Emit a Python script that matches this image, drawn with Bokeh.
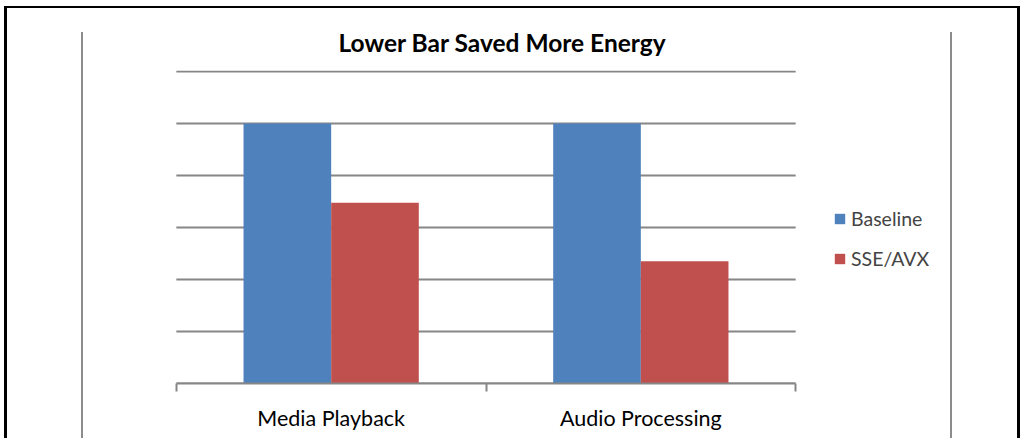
from bokeh.plotting import figure
from bokeh.models import (FactorRange, Range1d, LinearAxis, CategoricalAxis, FixedTicker,
                          Legend, LegendItem, ColumnDataSource, InlineStyleSheet)
from bokeh.transform import dodge
from bokeh.embed import file_html
from bokeh.resources import INLINE

# ---- data ----
categories = ["Media Playback", "Audio Processing"]
series_names = ["Baseline", "SSE/AVX"]
baseline = [1.0, 1.0]
sse_avx = [0.695, 0.47]
y_ticks = [0, 0.2, 0.4, 0.6, 0.8, 1.0, 1.2]

BLUE = "#4F81BD"
RED = "#C0504D"
GRID = "#868686"
FONT = "Lato"

src = ColumnDataSource(dict(cat=categories, baseline=baseline, sse=sse_avx))
n = len(categories)
grid_src = ColumnDataSource(dict(x0=[0] * len(y_ticks), x1=[n] * len(y_ticks),
                                 y=y_ticks))

# frame extends beyond the category area so the legend fits inside it
p = figure(width=1020, height=438,
           x_range=FactorRange(*categories, range_padding=0.5,
                               range_padding_units="absolute"),
           y_range=Range1d(0, 1.204),
           x_axis_location=None, y_axis_location=None,
           output_backend="svg", toolbar_location=None,
           min_border_left=21, min_border_right=70,
           min_border_top=70, min_border_bottom=55)
p.grid.visible = False
p.outline_line_color = None
p.background_fill_color = None
p.border_fill_color = None

# decorative outer border and chart-area side lines (page styling)
css = """
:host {
  background-color: white;
  background-image: linear-gradient(#000, #000), linear-gradient(#000, #000),
                    linear-gradient(#000, #000), linear-gradient(#8c8c8c, #8c8c8c),
                    linear-gradient(#8c8c8c, #8c8c8c);
  background-repeat: no-repeat;
  background-position: 4px 6px, 4px 6px, 1017px 6px, 81px 32px, 950px 32px;
  background-size: 3px 100%, 100% 2px, 3px 100%, 2px 100%, 2px 100%;
}
"""
p.stylesheets = [InlineStyleSheet(css=css)]

# title
p.title.text = "Lower Bar Saved More Energy"
p.title.align = "left"
p.title.offset = 317
p.title.text_font = FONT
p.title.text_font_style = "bold"
p.title.text_font_size = "24.5px"
p.title.text_color = "black"
p.title.standoff = 28

# horizontal gridlines over the category area only
p.segment(x0="x0", x1="x1", y0="y", y1="y", source=grid_src,
          line_color=GRID, line_width=2)

# category axis line with boundary ticks (synthetic categorical coordinates 0..n)
bax = LinearAxis(ticker=FixedTicker(ticks=list(range(n + 1))), bounds=(0, n),
                 major_label_text_font_size="0px", major_label_text_color=None,
                 major_tick_out=8, major_tick_in=0,
                 minor_tick_line_color=None, axis_line_color=GRID, axis_line_width=2,
                 major_tick_line_color=GRID, major_tick_line_width=2, major_label_standoff=0)
p.add_layout(bax, "below")

cax = CategoricalAxis(axis_line_color=None, major_tick_line_color=None,
                      minor_tick_line_color=None,
                      major_label_text_font=FONT, major_label_text_font_size="21.5px",
                      major_label_text_color="black", major_label_standoff=7)
p.add_layout(cax, "below")

w = 0.283
r1 = p.vbar(x=dodge("cat", -w / 2, range=p.x_range), top="baseline", width=w,
            source=src, fill_color=BLUE, line_color=None)
r2 = p.vbar(x=dodge("cat", w / 2, range=p.x_range), top="sse", width=w,
            source=src, fill_color=RED, line_color=None)

legend = Legend(items=[LegendItem(label=series_names[0], renderers=[r1]),
                       LegendItem(label=series_names[1], renderers=[r2])],
                location=(812, 113), padding=0, margin=0, spacing=16,
                glyph_width=13, glyph_height=13, label_height=24, label_standoff=5,
                label_text_font=FONT, label_text_font_size="19.5px",
                border_line_color=None, background_fill_alpha=0)
p.add_layout(legend, "center")

open("out.html", "w").write(file_html(p, INLINE))
